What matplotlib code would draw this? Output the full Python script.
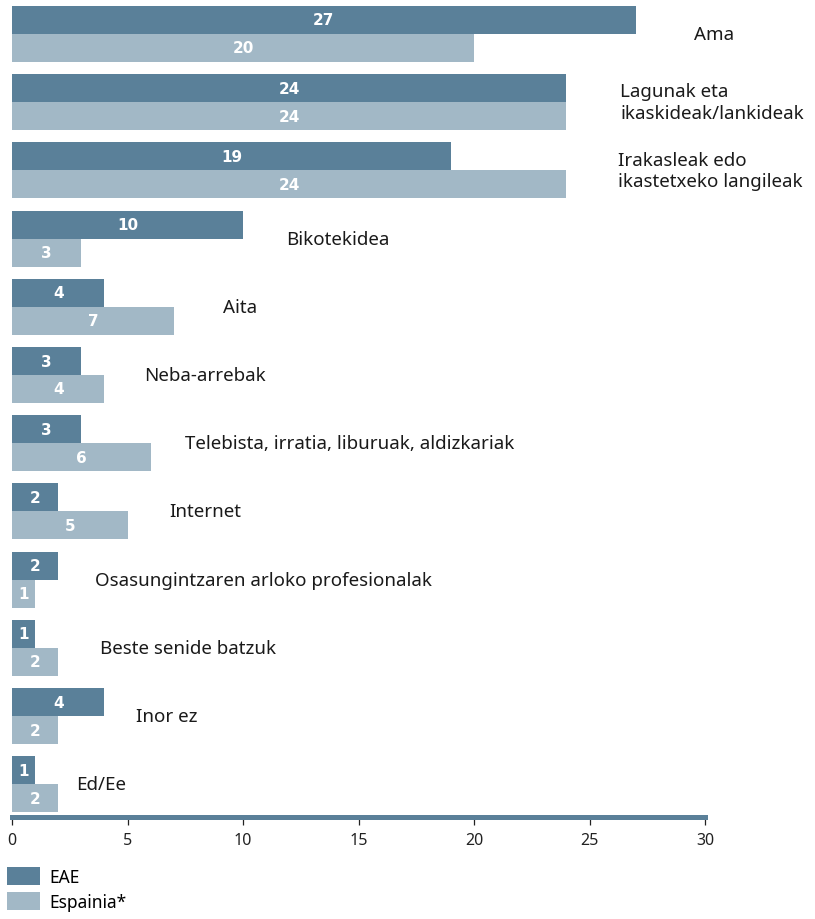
import matplotlib.pyplot as plt
import numpy as np
from matplotlib.patches import Patch

# data
categories = [
    "Ama",
    "Lagunak eta\nikaskideak/lankideak",
    "Irakasleak edo\nikastetxeko langileak",
    "Bikotekidea",
    "Aita",
    "Neba-arrebak",
    "Telebista, irratia, liburuak, aldizkariak",
    "Internet",
    "Osasungintzaren arloko profesionalak",
    "Beste senide batzuk",
    "Inor ez",
    "Ed/Ee",
]
eae = [27, 24, 19, 10, 4, 3, 3, 2, 2, 1, 4, 1]
espainia = [20, 24, 24, 3, 7, 4, 6, 5, 1, 2, 2, 2]
series_names = ["EAE", "Espainia*"]

# style
colDark = "#5a8099"
colLight = "#a2b8c6"
barH = 0.41
# distance (px) from longest bar to category label
labelGap = [58, 54, 52, 43, 49, 40, 34, 42, 37, 42, 32, 18]

plt.rcParams['font.family'] = ['Noto Sans', 'DejaVu Sans']

fig = plt.figure(figsize=(8.15, 9.2), dpi=100)
ax = fig.add_axes([12/815, 102/920, 693/815, 811/920])

y = np.arange(len(categories))
ax.barh(y - barH/2, eae, height=barH, color=colDark)
ax.barh(y + barH/2, espainia, height=barH, color=colLight)

numFont = dict(ha='center', va='center', color='white', fontweight='bold',
               fontsize=11, family='DejaVu Sans')
for i in range(len(categories)):
    ax.text(eae[i]/2, y[i] - barH/2, str(eae[i]), **numFont)
    ax.text(espainia[i]/2, y[i] + barH/2, str(espainia[i]), **numFont)
    ax.annotate(categories[i], xy=(max(eae[i], espainia[i]), y[i]),
                xytext=(labelGap[i]*0.72, 0), textcoords='offset points',
                ha='left', va='center', fontsize=13.5, color='#1a1a1a',
                linespacing=1.25, annotation_clip=False)

ax.set_xlim(0, 30)
ax.set_ylim(11.48, -barH)
ax.set_xticks([0, 5, 10, 15, 20, 25, 30])
ax.set_yticks([])
for s in ['top', 'right', 'left']:
    ax.spines[s].set_visible(False)
ax.spines['bottom'].set_color(colDark)
ax.spines['bottom'].set_linewidth(3.6)
ax.tick_params(axis='x', direction='out', length=6, width=0.9, color='#222222',
               labelsize=11.5, pad=5, labelcolor='#222222')

handles = [Patch(facecolor=colDark), Patch(facecolor=colLight)]
fig.legend(handles, series_names, loc='upper left', bbox_to_anchor=(0.0086, 0.057),
           frameon=False, fontsize=12.5, handlelength=1.9, handleheight=1.25,
           labelspacing=0.35, handletextpad=0.55, borderaxespad=0, borderpad=0)

fig.savefig("out.png", dpi=100)
